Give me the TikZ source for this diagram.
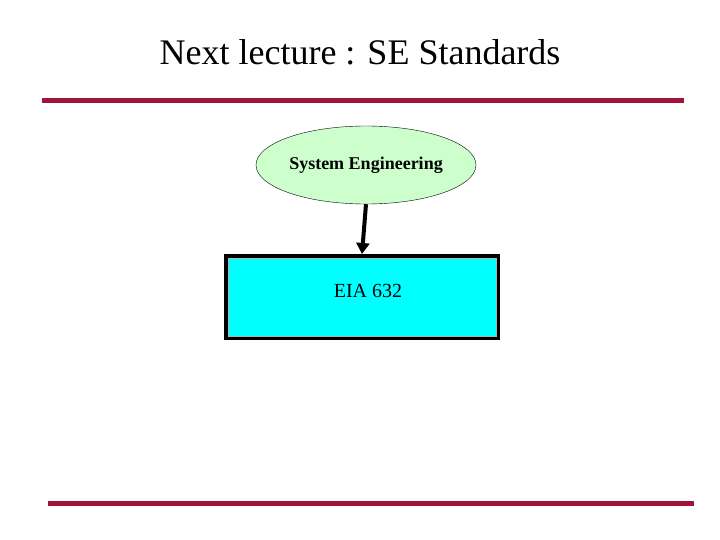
\documentclass[tikz,border=0pt]{standalone}
\usepackage{fontspec}
\setmainfont{Liberation Serif}
\usetikzlibrary{shapes.geometric,arrows.meta}
\definecolor{rule}{HTML}{A0143C}
\definecolor{ellfill}{HTML}{CCFFCC}
\definecolor{boxfill}{HTML}{00FFFF}
\tikzset{rulebar/.style={rule,line width=5pt},
 ell/.style={ellipse,draw=black,fill=ellfill,minimum width=220pt,minimum height=78pt,inner sep=0pt,font=\fontsize{18}{20}\selectfont\bfseries},
 stdbox/.style={draw=black,line width=4pt,fill=boxfill,minimum width=272pt,minimum height=82pt,inner sep=0pt},
 conn/.style={line width=4pt,-{Triangle[length=11pt,width=13pt]}}}
\begin{document}
\begin{tikzpicture}[x=1pt,y=1pt]
\useasboundingbox (0,0) rectangle (720,-540);
\node (title) at (360,-52) {\fontsize{36}{40}\selectfont Next lecture : SE Standards};
\coordinate (t1) at (42,-101); \coordinate (t2) at (684,-101);
\coordinate (b1) at (48,-503); \coordinate (b2) at (694,-503);
\draw[rulebar] (t1) -- (t2);
\draw[rulebar] (b1) -- (b2);
\node[ell] (se) at (366,-165) {System Engineering};
\node[stdbox] (eia) at (362,-297) {};
\draw[gray!60,line width=0.8pt] ([xshift=4pt,yshift=-4pt]eia.north west) rectangle ([xshift=-4pt,yshift=4pt]eia.south east);
\node[font=\fontsize{20}{22}\selectfont] (lbl) at (368,-291) {EIA 632};
\draw[conn] (se.south) -- (eia.north);
\end{tikzpicture}
\end{document}
